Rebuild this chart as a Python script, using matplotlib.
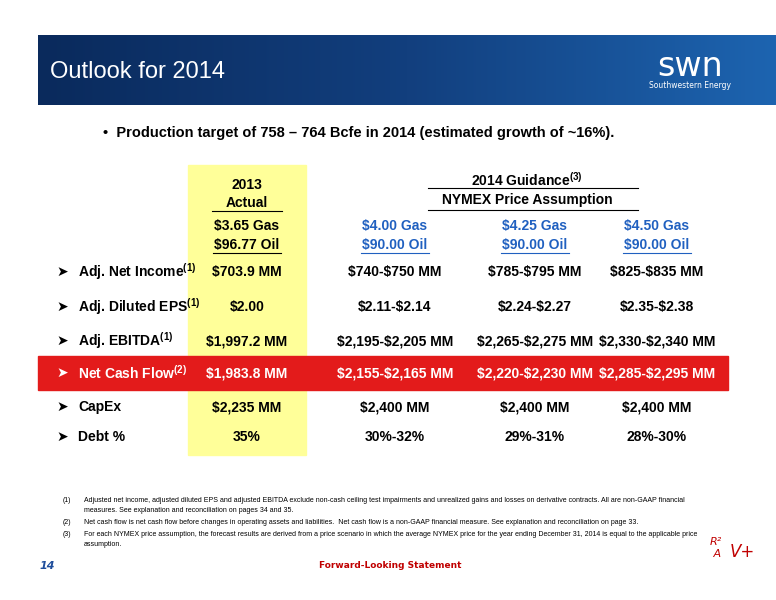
import matplotlib
matplotlib.use("Agg")
import matplotlib.pyplot as plt
from matplotlib.patches import Rectangle
from matplotlib.colors import LinearSegmentedColormap
import numpy as np

plt.rcParams['mathtext.fontset'] = 'custom'
plt.rcParams['mathtext.bf'] = 'Liberation Sans:bold'
plt.rcParams['mathtext.rm'] = 'Liberation Sans:bold'

rows = ["Adj. Net Income", "Adj. Diluted EPS", "Adj. EBITDA", "Net Cash Flow", "CapEx", "Debt %"]
row_sup = ["(1)", "(1)", "(1)", "(2)", "", ""]
gas = ["$3.65 Gas", "$4.00 Gas", "$4.25 Gas", "$4.50 Gas"]
oil = ["$96.77 Oil", "$90.00 Oil", "$90.00 Oil", "$90.00 Oil"]
values = [
    ["$703.9 MM", "$740-$750 MM", "$785-$795 MM", "$825-$835 MM"],
    ["$2.00", "$2.11-$2.14", "$2.24-$2.27", "$2.35-$2.38"],
    ["$1,997.2 MM", "$2,195-$2,205 MM", "$2,265-$2,275 MM", "$2,330-$2,340 MM"],
    ["$1,983.8 MM", "$2,155-$2,165 MM", "$2,220-$2,230 MM", "$2,285-$2,295 MM"],
    ["$2,235 MM", "$2,400 MM", "$2,400 MM", "$2,400 MM"],
    ["35%", "30%-32%", "29%-31%", "28%-30%"],
]
footnotes = [
    ("(1)", "Adjusted net income, adjusted diluted EPS and adjusted EBITDA exclude non-cash ceiling test impairments and unrealized gains and losses on derivative contracts. All are non-GAAP financial\nmeasures. See explanation and reconciliation on pages 34 and 35."),
    ("(2)", "Net cash flow is net cash flow before changes in operating assets and liabilities.  Net cash flow is a non-GAAP financial measure. See explanation and reconciliation on page 33."),
    ("(3)", "For each NYMEX price assumption, the forecast results are derived from a price scenario in which the average NYMEX price for the year ending December 31, 2014 is equal to the applicable price\nassumption."),
]

fig = plt.figure(figsize=(7.76, 6.0), dpi=100)
ax = fig.add_axes([0, 0, 1, 1])
ax.set_xlim(0, 776); ax.set_ylim(600, 0); ax.axis("off")

grad = np.linspace(0, 1, 256).reshape(1, -1)
cm = LinearSegmentedColormap.from_list("g", ["#0a2a5c", "#123f7e", "#1d64b0"])
ax.imshow(grad, extent=(38, 776, 105, 35), cmap=cm, aspect="auto", zorder=0)
ax.text(50, 72, "Outlook for 2014", color="white", fontsize=17, va="center", family="Liberation Sans")
ax.text(690, 66, "swn", color="white", fontsize=24, va="center", ha="center", family="DejaVu Sans")
ax.text(690, 86, "Southwestern Energy", color="white", fontsize=5.5, va="center", ha="center")

ax.text(103, 133, "•  Production target of 758 – 764 Bcfe in 2014 (estimated growth of ~16%).",
        fontsize=10.5, fontweight="bold", va="center", family="Liberation Sans", parse_math=False)

ax.add_patch(Rectangle((188, 165), 118, 290, color="#FFFF99", zorder=1))
ax.add_patch(Rectangle((38, 356), 690, 34, color="#E31B1B", zorder=2))

fs = 10
kw = dict(fontweight="bold", va="center", ha="center", family="Liberation Sans", fontsize=fs, zorder=3)
ax.text(247, 185, "2013", **kw)
ax.text(247, 203, "Actual", **kw)
ax.plot([212, 282], [211, 211], color="black", lw=0.8, zorder=3)
ax.text(527, 180, r"2014 Guidance$^{\mathbf{(3)}}$", **kw)
ax.plot([428, 638], [188, 188], color="black", lw=0.8, zorder=3)
ax.text(527, 200, "NYMEX Price Assumption", **kw)
ax.plot([428, 638], [210, 210], color="black", lw=0.8, zorder=3)

cols = [247, 395, 535, 657]
for i, x in enumerate(cols):
    c = "black" if i == 0 else "#2060C0"
    ax.text(x, 226, gas[i], color=c, parse_math=False, **kw)
    ax.text(x, 245, oil[i], color=c, parse_math=False, **kw)
    ax.plot([x - 34, x + 34], [253, 253], color=c, lw=0.8, zorder=3)

ys = [272, 307, 341, 373, 407, 437]
for r, y in enumerate(ys):
    c = "white" if r == 3 else "black"
    if row_sup[r]:
        lab, pm = rows[r] + r"$^{\mathbf{%s}}$" % row_sup[r], True
    else:
        lab, pm = rows[r], False
    ax.text(62, y, "➤", color=c, fontsize=10, va="center", ha="center", zorder=3, family="DejaVu Sans")
    ax.text(78, y, lab, color=c, fontweight="bold", va="center", ha="left", family="Liberation Sans",
            fontsize=fs, zorder=3, parse_math=pm)
    for i, x in enumerate(cols):
        ax.text(x, y, values[r][i], color=c, parse_math=False, **kw)

fy = [497, 519, 531]
for (n, t), y in zip(footnotes, fy):
    ax.text(63, y, n, fontsize=5, va="top", family="Liberation Sans")
    ax.text(84, y, t, fontsize=5, va="top", family="Liberation Sans", linespacing=1.6)

ax.text(40, 566, "14", fontsize=8, fontweight="bold", style="italic", color="#1f4e9c", va="center")
ax.text(390, 566, "Forward-Looking Statement", fontsize=6.5, fontweight="bold", color="#C00000", va="center", ha="center")
ax.text(710, 548, "R\u00b2\n A", fontsize=8, color="#C00000", style="italic", va="center")
ax.text(730, 552, "V+", fontsize=12, color="#C00000", style="italic", va="center")

fig.savefig("out.png", dpi=100)
